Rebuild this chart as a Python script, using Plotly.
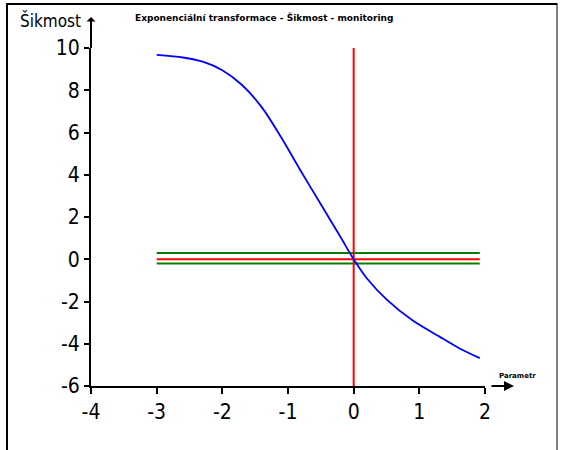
import plotly.graph_objects as go

# Data
curve_x = [-3.0, -2.6, -2.3, -2.0, -1.7, -1.4, -1.1, -0.8, -0.5, -0.2, 0.0, 0.2, 0.5, 0.9, 1.3, 1.6, 1.92]
curve_y = [9.67, 9.55, 9.35, 8.95, 8.25, 7.2, 5.75, 4.15, 2.6, 1.05, 0.0, -0.9, -1.9, -2.9, -3.65, -4.2, -4.68]
limit_x = [-3.0, 1.92]
center_y = 0.0
upper_y = 0.3
lower_y = -0.2
vline_x = 0.0
vline_y = [-6, 10]
x_ticks = [-4, -3, -2, -1, 0, 1, 2]
y_ticks = [-6, -4, -2, 0, 2, 4, 6, 8, 10]

W, H = 561, 450
L, R, T, B = 91, 76, 48, 64
pw, ph = W - L - R, H - T - B

def px(xp):
    return (xp - L) / pw

def py(yp):
    return (H - B - yp) / ph

FONT = "DejaVu Sans Condensed, Liberation Sans Narrow, sans-serif"

fig = go.Figure()
fig.add_trace(go.Scatter(x=limit_x, y=[upper_y, upper_y], mode="lines",
                         line=dict(color="#008000", width=2), showlegend=False))
fig.add_trace(go.Scatter(x=limit_x, y=[lower_y, lower_y], mode="lines",
                         line=dict(color="#008000", width=2), showlegend=False))
fig.add_trace(go.Scatter(x=limit_x, y=[center_y, center_y], mode="lines",
                         line=dict(color="#ff0000", width=2), showlegend=False))
fig.add_trace(go.Scatter(x=[vline_x, vline_x], y=vline_y, mode="lines",
                         line=dict(color="#ff0000", width=2), showlegend=False))
fig.add_trace(go.Scatter(x=curve_x, y=curve_y, mode="lines",
                         line=dict(color="#0000ff", width=1.8, shape="spline", smoothing=0.8),
                         showlegend=False))

fig.update_layout(
    width=W, height=H,
    margin=dict(l=L, r=R, t=T, b=B),
    paper_bgcolor="white", plot_bgcolor="white",
    xaxis=dict(range=[-4, 2], tickvals=x_ticks, ticktext=[str(v) for v in x_ticks],
               showgrid=False, zeroline=False, showline=True, linecolor="black", linewidth=2,
               ticks="outside", ticklen=6, tickwidth=2, tickcolor="black",
               tickfont=dict(family=FONT, size=21, color="black")),
    yaxis=dict(range=[-6, 10], tickvals=y_ticks, ticktext=[str(v) for v in y_ticks],
               showgrid=False, zeroline=False, showline=True, linecolor="black", linewidth=2,
               ticks="outside", ticklen=5, tickwidth=2, tickcolor="black",
               tickfont=dict(family=FONT, size=21, color="black")),
    shapes=[
        # y-axis extension
        dict(type="line", xref="paper", yref="paper", x0=0, x1=0, y0=1, y1=py(20),
             line=dict(color="black", width=2)),
        # border
        dict(type="line", xref="paper", yref="paper", x0=px(7), x1=px(7), y0=py(3), y1=py(452),
             line=dict(color="black", width=2)),
        dict(type="line", xref="paper", yref="paper", x0=px(7), x1=px(557), y0=py(4), y1=py(4),
             line=dict(color="black", width=2)),
        dict(type="line", xref="paper", yref="paper", x0=px(557), x1=px(557), y0=py(3), y1=py(452),
             line=dict(color="black", width=1)),
    ],
    annotations=[
        dict(xref="paper", yref="paper", x=0, y=py(17), ax=0, ay=14, axref="pixel", ayref="pixel",
             text="", showarrow=True, arrowhead=1, arrowsize=1, arrowwidth=1.5, arrowcolor="black"),
        dict(xref="paper", yref="paper", x=px(514), y=0, ax=-24, ay=0,
             text="", showarrow=True, arrowhead=2, arrowsize=1, arrowwidth=2, arrowcolor="black"),
        dict(xref="paper", yref="paper", x=px(50), y=py(21), text="Šikmost", showarrow=False,
             font=dict(family=FONT, size=17, color="black"), xanchor="center", yanchor="middle"),
        dict(xref="paper", yref="paper", x=px(133), y=py(17),
             text="<b>Exponenciální transformace - Šikmost - monitoring</b>", showarrow=False,
             font=dict(family="DejaVu Sans", size=9, color="black"), xanchor="left", yanchor="middle"),
        dict(xref="paper", yref="paper", x=px(517), y=py(376), text="<b>Parametr</b>", showarrow=False,
             font=dict(family="DejaVu Sans", size=7, color="black"), xanchor="center", yanchor="middle"),
    ],
)

fig.write_html("out.html")
